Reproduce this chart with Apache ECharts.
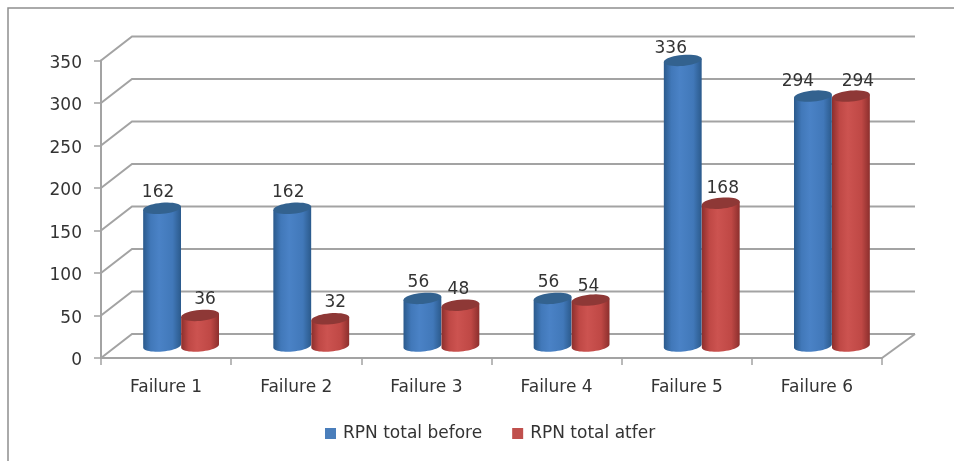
<!DOCTYPE html>
<html><head><meta charset="utf-8">
<script src="https://cdn.jsdelivr.net/npm/echarts@6/dist/echarts.min.js"></script>
<style>html,body{margin:0;padding:0;background:#fff}#c{width:954px;height:461px}</style>
</head><body><div id="c"></div>
<script>
const categories = ['Failure 1','Failure 2','Failure 3','Failure 4','Failure 5','Failure 6'];
const rpnBefore = [162,162,56,56,336,294];
const rpnAfter  = [36,32,48,54,168,294];
const seriesNames = ['RPN total before','RPN total atfer'];
const yTicks = [0,50,100,150,200,250,300,350];
// label nudges: [dx, dy] relative to the bar cap
const labelNudgeBefore = [[-4,-16],[-4,-16],[-4,-16],[-4,-16],[-12,-12],[-15,-15]];
const labelNudgeAfter  = [[5,-16],[5,-16],[-2,-16],[-2,-14],[2,-15],[7,-15]];

const FONT = 'DejaVu Sans';
const FS = 17;
const DEPTH_X = 31, DEPTH_Y = 24;
const LINE = '#a3a3a3';
const RX = 19, RY = 5.5, TILT = -0.09;

function ellipsePt(cx, cy, t){
  const x=RX*Math.cos(t), y=RY*Math.sin(t);
  return [cx+x*Math.cos(TILT)-y*Math.sin(TILT), cy+x*Math.sin(TILT)+y*Math.cos(TILT)];
}
function ellipsePts(cx, cy, from, to, n){
  const pts=[];
  for(let i=0;i<=n;i++) pts.push(ellipsePt(cx,cy,from+(to-from)*i/n));
  return pts;
}
function cylinder(side){
  const vals = side===0?rpnBefore:rpnAfter;
  const nudge = side===0?labelNudgeBefore:labelNudgeAfter;
  const c = side===0
    ? {e:'#2b5a8c',m:'#4a82c6',l:'#4178b9',cap:'#33628f'}
    : {e:'#8c2f2d',m:'#cc5350',l:'#bf4845',cap:'#8e3836'};
  return function(params, api){
    const idx=api.value(0), v=api.value(1);
    const base=api.coord([idx,0]), top=api.coord([idx,v]);
    const offset=(side===0?-1:1)*RX;
    const cx=base[0]+DEPTH_X/2+offset-0.5;
    const by=base[1]-DEPTH_Y/2, ty=top[1]-DEPTH_Y/2;
    const body=[ellipsePt(cx,ty,0)].concat(ellipsePts(cx,by,0,Math.PI,24)).concat([ellipsePt(cx,ty,Math.PI)]);
    const grad=new echarts.graphic.LinearGradient(0,0,1,0,[
      {offset:0,color:c.e},{offset:0.2,color:c.l},{offset:0.42,color:c.m},
      {offset:0.78,color:c.l},{offset:1,color:c.e}]);
    const n=nudge[idx];
    return {type:'group',children:[
      {type:'polygon',shape:{points:body},style:{fill:grad}},
      {type:'polygon',shape:{points:ellipsePts(cx,ty,0,Math.PI*2,40)},style:{fill:c.cap}},
      {type:'text',z2:50,style:{text:String(vals[idx]),x:cx+n[0],y:ty+n[1],align:'center',verticalAlign:'middle',
        font:FS+'px "'+FONT+'"',fill:'#333'}}
    ]};
  };
}
function wallItem(params, api){
  const r=params.coordSys;
  const y=api.coord([0,api.value(1)])[1];
  const x0=r.x, x1=r.x+r.width;
  const lineStyle={stroke:LINE,lineWidth:2,fill:'none'};
  const kids=[
    {type:'polyline',shape:{points:[[x0,y],[x0+DEPTH_X,y-DEPTH_Y],[x1+DEPTH_X+2,y-DEPTH_Y]]},style:lineStyle}
  ];
  if(api.value(1)===0){
    kids.push({type:'line',shape:{x1:x1,y1:y,x2:x1+DEPTH_X+2,y2:y-DEPTH_Y},style:lineStyle});
  }
  return {type:'group',children:kids};
}
const chart=echarts.init(document.getElementById('c'),null,{renderer:'canvas'});
const zipped=a=>a.map((v,i)=>[i,v]);
chart.setOption({
  animation:false,
  backgroundColor:'#fff',
  textStyle:{fontFamily:FONT},
  graphic:[{type:'rect',silent:true,z:0,shape:{x:8,y:8,width:1000,height:1000},style:{fill:'none',stroke:'#8f8f8f',lineWidth:1.5}}],
  grid:{left:101,top:60.5,width:781,height:297.5,containLabel:false},
  legend:{data:seriesNames,left:320,top:420,itemWidth:11,itemHeight:11,itemGap:30,icon:'rect',
    textStyle:{fontFamily:FONT,fontSize:FS,color:'#333',padding:[0,0,0,2]},selectedMode:false},
  xAxis:{type:'category',data:categories,boundaryGap:true,
    axisLine:{lineStyle:{color:LINE,width:2}},
    axisTick:{show:true,length:7,lineStyle:{color:LINE,width:1.5}},
    axisLabel:{fontFamily:FONT,fontSize:FS,color:'#333',margin:21},
    splitLine:{show:false}},
  yAxis:{type:'value',min:0,max:350,interval:50,
    axisLine:{show:true,lineStyle:{color:LINE,width:2}},
    axisTick:{show:true,length:7,lineStyle:{color:LINE,width:1.5}},
    axisLabel:{fontFamily:FONT,fontSize:FS,color:'#333',margin:19,verticalAlign:'top',lineHeight:6},
    splitLine:{show:false}},
  series:[
    {type:'custom',name:'walls',silent:true,z:1,clip:false,renderItem:wallItem,encode:{x:0,y:1},data:zipped(yTicks).map(d=>[0,d[1]])},
    {type:'custom',name:seriesNames[0],z:3,clip:false,itemStyle:{color:'#4a7ebb'},renderItem:cylinder(0),encode:{x:0,y:1},data:zipped(rpnBefore)},
    {type:'custom',name:seriesNames[1],z:4,clip:false,itemStyle:{color:'#c0504d'},renderItem:cylinder(1),encode:{x:0,y:1},data:zipped(rpnAfter)}
  ]
});
</script></body></html>
